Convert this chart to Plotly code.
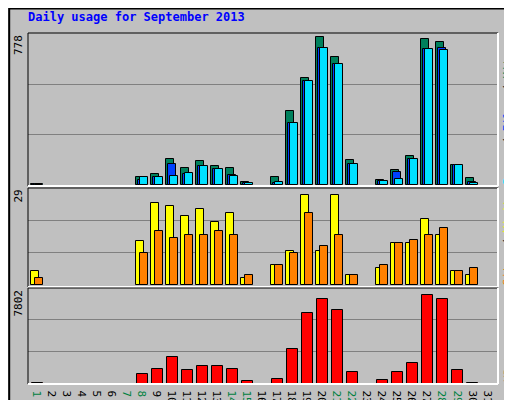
import plotly.graph_objects as go

days = list(range(1, 32))
weekend = [1, 7, 8, 14, 15, 21, 22, 28, 29]

hits = [5, 0, 0, 0, 0, 0, 0, 39, 55, 132, 86, 122, 96, 86, 14, 0, 39, 379, 548, 759, 656, 127, 0, 24, 75, 147, 749, 738, 101, 34, 0]
files = [3, 0, 0, 0, 0, 0, 0, 24, 39, 106, 55, 96, 81, 50, 9, 0, 9, 317, 533, 707, 620, 106, 0, 19, 65, 132, 697, 707, 101, 14, 0]
pages = [3, 0, 0, 0, 0, 0, 0, 39, 39, 45, 60, 96, 81, 45, 9, 0, 14, 317, 533, 707, 620, 106, 0, 19, 29, 132, 697, 692, 101, 9, 0]
visits = [4, 0, 0, 0, 0, 0, 0, 13, 24.4, 23.5, 20.6, 22.6, 18.8, 21.5, 2, 0, 6, 10, 27, 10, 27, 3, 0, 5, 12.4, 12.4, 19.7, 15, 4, 3, 0]
sites = [2, 0, 0, 0, 0, 0, 0, 9.5, 16, 14, 15, 15, 16, 15, 3, 0, 6, 9.5, 21.5, 11.5, 15, 3, 0, 6, 12.4, 13.3, 15, 17, 4, 5, 0]
kbytes = [60, 0, 0, 0, 0, 0, 0, 814, 1208, 2154, 1130, 1445, 1445, 1208, 184, 0, 341, 2863, 5779, 6883, 6016, 972, 0, 263, 972, 1681, 7198, 6883, 1130, 60, 0]

max_hits, max_visits, max_kb = 778, 29, 7802


def nz(vals):
    return [v if v else None for v in vals]


fig = go.Figure()
line = dict(color="black", width=1)

def bar(vals, color, off, w, ax):
    fig.add_trace(go.Bar(x=days, y=nz(vals), offset=off, width=w, yaxis=ax,
                         marker=dict(color=color, line=line), showlegend=False))

bar(hits, "#00805c", -0.53, 0.53, "y")
bar(files, "#0040ff", -0.4, 0.53, "y")
bar(pages, "#00e0ff", -0.27, 0.53, "y")
bar(visits, "#ffff00", -0.53, 0.53, "y2")
bar(sites, "#ff8000", -0.27, 0.53, "y2")
bar(kbytes, "#ff0000", -0.47, 0.73, "y3")

ticktext = [f'<span style="color:{"#008040" if d in weekend else "black"}">{d}</span>' for d in days]

grid = dict(showgrid=True, gridcolor="#808080", gridwidth=1, showticklabels=False,
            zeroline=False, ticks="", automargin=False)
fig.update_layout(
    width=512, height=400, barmode="overlay",
    paper_bgcolor="#c0c0c0", plot_bgcolor="#c0c0c0",
    margin=dict(l=20, r=22, t=25, b=24, autoexpand=False),
    font=dict(family="DejaVu Sans Mono", size=11, color="black"),
    xaxis=dict(range=[0.27, 31.6], tickvals=days, ticktext=ticktext, showgrid=False,
               zeroline=False, ticks="", tickfont=dict(size=11), anchor="y3",
               automargin=False),
    yaxis=dict(domain=[0.564, 1], range=[-7, 782],
               tickvals=[max_hits / 3, 2 * max_hits / 3], **grid),
    yaxis2=dict(domain=[0.2764, 0.5584], range=[-0.7, 29],
                tickvals=[max_visits / 3, 2 * max_visits / 3], **grid),
    yaxis3=dict(domain=[0, 0.2735], range=[-30, 7802],
                tickvals=[max_kb / 3, 2 * max_kb / 3], **grid),
    bargap=0,
)

# panel bevels
for y0, y1 in [(0.564, 1), (0.2764, 0.5584), (0, 0.2735)]:
    fig.add_shape(type="line", xref="paper", yref="paper", x0=0, x1=1, y0=y1, y1=y1, line=dict(color="black", width=1))
    fig.add_shape(type="line", xref="paper", yref="paper", x0=0, x1=0, y0=y0, y1=y1, line=dict(color="black", width=1))
    fig.add_shape(type="line", xref="paper", yref="paper", x0=0, x1=1, y0=y0, y1=y0, line=dict(color="white", width=2))
    fig.add_shape(type="line", xref="paper", yref="paper", x0=1, x1=1, y0=y0, y1=y1, line=dict(color="white", width=2))

# outer frame
fig.add_shape(type="rect", xref="paper", yref="paper", x0=-0.04, x1=1.045, y0=-0.066, y1=1.07,
              line=dict(color="black", width=2))
fig.add_shape(type="line", xref="paper", yref="paper", x0=-0.035, x1=1.038, y0=-0.058, y1=-0.058,
              line=dict(color="#808080", width=4))
fig.add_shape(type="line", xref="paper", yref="paper", x0=1.038, x1=1.038, y0=-0.058, y1=1.064,
              line=dict(color="#808080", width=4))

ann = [
    dict(x=0, y=1.045, xanchor="left", yanchor="middle", xshift=-2,
         text="<b>Daily usage for September 2013</b>", font=dict(color="#0000ff", size=12)),
    dict(x=-0.003, y=1, xanchor="right", yanchor="top", textangle=-90, text="778"),
    dict(x=-0.003, y=0.5584, xanchor="right", yanchor="top", textangle=-90, text="29"),
    dict(x=-0.003, y=0.2735, xanchor="right", yanchor="top", textangle=-90, text="7802"),
    dict(x=1.003, y=0.564, xanchor="left", yanchor="bottom", textangle=-90,
         text='<span style="color:#00e0ff">Pages</span> / <span style="color:#0040ff">Files</span> / <span style="color:#00805c">Hits</span>'),
    dict(x=1.003, y=0.2764, xanchor="left", yanchor="bottom", textangle=-90,
         text='<span style="color:#ff8000">Sites</span> / <span style="color:#ffff00">Visits</span>'),
    dict(x=1.003, y=0, xanchor="left", yanchor="bottom", textangle=-90,
         text='<span style="color:#ff0000">KBytes</span>'),
]
for a in ann:
    fig.add_annotation(xref="paper", yref="paper", showarrow=False, **a)

fig.write_html("out.html")
